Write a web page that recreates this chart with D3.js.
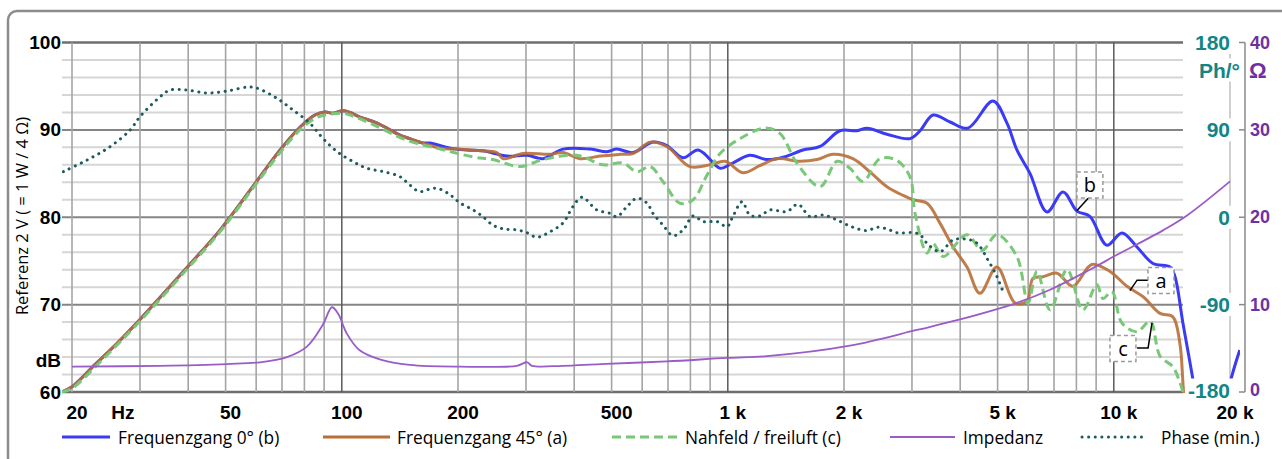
<!DOCTYPE html>
<html><head><meta charset="utf-8">
<script src="https://cdn.jsdelivr.net/npm/d3@7"></script>
<style>body{margin:0;background:#fff;}svg{display:block;font-family:"Open Sans",sans-serif;}.num{font-family:"Liberation Sans",Arial,sans-serif;font-weight:bold;}</style>
</head><body><svg id="c" width="1282" height="459"></svg>
<script>
// ---------- DATA ----------
const lowShared = [[18.8,60],[20,60.6],[23,63.2],[25,64.7],[30,68.3],[40,74.4],[48.3,78.5],[58.8,83.5],[69.2,87.7],[77.9,90.3],[85.2,91.7],[90.5,92.05],[94.8,91.9],[100.7,92.2],[105,92.0],[111,91.5],[123,90.8],[141.5,89.4],[147.6,89.1],[162,88.5]];
const resp0 = lowShared.concat([[169,88.5],[191,87.9],[211,87.7],[232,87.6],[268,87.0],[302,87.1],[332,86.7],[374,87.8],[440,87.8],[486,87.5],[516,87.8],[568,87.4],[640,88.6],[695,88.2],[766,86.8],[838,87.7],[938,85.8],[960,85.6],[1030,86.2],[1140,87.1],[1262,86.6],[1400,86.9],[1566,87.7],[1734,88.1],[1952,89.9],[2162,89.9],[2294,90.2],[2584,89.5],[2966,89.0],[3148,89.9],[3402,91.7],[3766,90.9],[4188,90.2],[4864,93.3],[5284,90.8],[5610,87.7],[6068,85.0],[6714,80.6],[7386,82.9],[8030,80.7],[8670,80.1],[9594,76.8],[10496,78.2],[11482,76.6],[12634,74.7],[13986,74.3],[14406,73.2],[15102,67.9],[16034,61.4],[17000,54],[18000,48],[19300,57],[20000,61],[21200,64.8]]);
const resp45 = lowShared.concat([[180,87.9],[199,87.8],[228,87.6],[252,87.4],[262,86.7],[295,87.3],[346,87.2],[374,87.4],[414,86.7],[467,87.0],[526,87.2],[568,87.3],[629,88.6],[695,88.1],[798,85.8],[900,86.0],[984,86.4],[1094,85.1],[1210,85.9],[1340,86.7],[1538,86.4],[1702,86.6],[1874,87.2],[2108,86.7],[2334,85.2],[2584,83.5],[2844,82.5],[3020,82.0],[3282,81.6],[3548,79.3],[3834,76.6],[4166,74.3],[4500,71.3],[4978,74.3],[5546,70.2],[5958,70.4],[6174,73.0],[6554,73.2],[7126,73.6],[7834,72.1],[8770,74.6],[9774,73.8],[10816,72.1],[11914,70.9],[13176,69.0],[14224,68.6],[14826,65.6],[15102,61.1],[15250,58]]);
const nearfield = [[18.8,60],[20,60.4],[23,62.9],[25,64.5],[30,68.1],[40,74.2],[48.3,78.3],[58.8,83.3],[69.2,87.4],[77.9,90.0],[85.2,91.3],[90.5,91.7],[100.7,91.9],[105,91.7],[120.5,90.6],[147.6,88.8],[180,87.8],[219,86.9],[246,86.6],[290,85.8],[332,86.6],[407,87.1],[475,86.0],[535,86.2],[582,85.2],[629,85.8],[679,84.1],[752,81.6],[813,82.0],[883,84.8],[955,87.3],[1076,89.0],[1248,90.2],[1364,89.6],[1510,86.2],[1734,83.5],[1918,86.4],[2072,85.6],[2240,84.1],[2478,86.7],[2742,86.5],[2966,84.6],[3056,80.4],[3282,75.9],[3402,77.0],[3612,75.5],[4166,78.0],[4558,76.2],[4978,78.0],[5610,75.5],[5994,70.2],[6324,73.8],[6836,69.4],[7568,74.0],[8318,69.4],[9038,72.3],[9376,70.7],[9886,71.5],[10496,67.9],[11482,66.9],[12418,68.1],[13176,64.1],[14224,62.9],[14826,61.1],[15102,60.0]];
const impedance = [[20,2.9],[33.8,3.0],[50.4,3.2],[61.4,3.4],[72.1,4.0],[81.2,5.2],[89.3,7.7],[94.3,9.7],[97.7,9.0],[103,6.7],[111,4.8],[126,3.7],[150,3.1],[202,2.9],[284,3.0],[302,3.4],[311,3.0],[374,3.0],[467,3.2],[695,3.5],[995,3.9],[1262,4.1],[2072,5.3],[3090,7.1],[3996,8.3],[5610,10.2],[6836,11.7],[8670,14.0],[10192,15.7],[13412,18.5],[15478,20.2],[20000,24.1]];
const phase = [[19,47],[21.9,59],[25.1,72.7],[28.3,90],[30,103.6],[33.8,124],[35.9,131],[39.7,131],[44.7,128],[50.4,130],[56.8,134],[60.3,133],[67.9,122.5],[74.7,110.5],[82.7,96.8],[89.3,81.4],[97.2,67.6],[107,57.3],[116,50.5],[128,47],[141.5,41.8],[150,33.3],[159,26.4],[172,29.9],[180,28.8],[191,23],[202,15],[219,7.5],[232,0.6],[246,-8],[262,-12],[284,-13],[302,-16],[320,-20.6],[346,-15],[374,-6],[397,11],[419,20.6],[458,7.5],[495,4],[516,0.6],[548,11],[582,19.6],[618,14.4],[640,4],[679,-8],[721,-19],[766,-13],[813,1.3],[863,-4.5],[938,-4.5],[995,-9.7],[1030,0.6],[1089,16],[1140,2.4],[1210,1.3],[1286,7.5],[1422,5.8],[1520,13.4],[1634,0.6],[1764,2.4],[1918,-2.8],[2108,-10.3],[2294,-13.8],[2436,-10.3],[2584,-12],[2742,-15.9],[3020,-15.9],[3148,-18],[3282,-26.8],[3548,-35.4],[3834,-23.4],[4166,-22.7],[4424,-26.8],[4720,-44],[4978,-61],[5164,-76.6]];

const gridFreqs = [20,30,40,50,60,70,80,90,100,200,300,400,500,600,700,800,900,1000,2000,3000,4000,5000,6000,7000,8000,9000,10000,20000];
const decadeFreqs = [100,1000,10000];
const dbGrid = d3.range(60,101,2);
const dbLabels = [100,90,80,70,60];
const xTickFreqs = [20,50,100,200,500,1000,2000,5000,10000,20000];
const xTickTexts = ["20","50","100","200","500","1 k","2 k","5 k","10 k","20 k"];
const phaseTicks = [180,90,0,-90,-180];
const impTicks = [40,30,20,10,0];
const legendNames = ["Frequenzgang 0° (b)","Frequenzgang 45° (a)","Nahfeld / freiluft (c)","Impedanz","Phase (min.)"];
// annotation: label, box centre [Hz,dB], leader polyline [[Hz,dB],...]
const annots = [
  {t:"b", c:[8670,83.7], lead:[[8630,82.3],[8020,80.75]]},
  {t:"a", c:[13250,72.75], lead:[[12330,72.8],[11490,72.8],[11010,71.6]]},
  {t:"c", c:[10560,64.97], lead:[[11490,65.05],[12270,65.05],[12560,67.9]]}
];

// ---------- SCALES ----------
const x = d3.scaleLog().domain([20,20000]).range([72,1230]);
const y = d3.scaleLinear().domain([60,100]).range([392,42.5]);
const yPh = d3.scaleLinear().domain([-180,180]).range([392,42.5]);
const yZ = d3.scaleLinear().domain([0,40]).range([392,42.5]);
const PL=62, PR=1240, GR=1183;

const svg = d3.select("#c");
const C = {blue:"#3b3bf6", brown:"#b86f38", green:"#78c878", purple:"#9a5cc6", phase:"#1d5c5c", teal:"#138585", purp:"#7030a0"};

// frame
svg.append("rect").attr("x",8).attr("y",11).attr("width",1300).attr("height",480).attr("rx",9)
  .attr("fill","none").attr("stroke","#8c8c8c").attr("stroke-width",2.5);

// horizontal grid
svg.append("g").selectAll("line").data(dbGrid).join("line")
  .attr("x1",PL).attr("x2",GR).attr("y1",d=>y(d)).attr("y2",d=>y(d))
  .attr("stroke",d=> (d===60||d===100)?"#6e6e6e":(d%10===0?"#858585":"#d6d6d6"))
  .attr("stroke-width",d=> (d===60||d===100)?2.5:2);
// vertical grid
svg.append("g").selectAll("line").data(gridFreqs).join("line")
  .attr("x1",d=>x(d)).attr("x2",d=>x(d)).attr("y1",y(100)).attr("y2",y(60))
  .attr("stroke",d=>decadeFreqs.includes(d)?"#5a5a5a":(d===20000?"#c4c4c4":"#a5a5a5"))
  .attr("stroke-width",d=>decadeFreqs.includes(d)?1.5:1.6);

// clip
svg.append("clipPath").attr("id","pc").append("rect").attr("x",PL).attr("y",40).attr("width",PR-PL).attr("height",y(60)-40+1);
const plot = svg.append("g").attr("clip-path","url(#pc)");
const crv = d3.curveCatmullRom.alpha(0.5);
const lineDb = d3.line().x(d=>x(d[0])).y(d=>y(d[1])).curve(crv);
const linePh = d3.line().x(d=>x(d[0])).y(d=>yPh(d[1])).curve(crv);
const lineZ = d3.line().x(d=>x(d[0])).y(d=>yZ(d[1])).curve(crv);

plot.append("path").attr("d",lineDb(resp0)).attr("fill","none").attr("stroke",C.blue).attr("stroke-width",3);
plot.append("path").attr("d",lineDb(resp45)).attr("fill","none").attr("stroke",C.brown).attr("stroke-width",3).attr("stroke-opacity",0.9);
plot.append("path").attr("d",lineDb(nearfield)).attr("fill","none").attr("stroke",C.green).attr("stroke-width",3).attr("stroke-dasharray","9,5");
plot.append("path").attr("d",lineZ(impedance)).attr("fill","none").attr("stroke",C.purple).attr("stroke-width",1.8);
plot.append("path").attr("d",linePh(phase)).attr("fill","none").attr("stroke",C.phase).attr("stroke-width",3).attr("stroke-linecap","round").attr("stroke-dasharray","0.1,6.5");

// annotations
const ag = svg.append("g");
annots.forEach(a=>{
  ag.append("path").attr("d",d3.line()(a.lead.map(p=>[x(p[0]),y(p[1])]))).attr("fill","none").attr("stroke","#000").attr("stroke-width",1.5);
  const cx=x(a.c[0]), cy=y(a.c[1]);
  ag.append("rect").attr("x",cx-13).attr("y",cy-13).attr("width",26).attr("height",26)
    .attr("fill","#fff").attr("stroke","#9a9a9a").attr("stroke-width",1.5).attr("stroke-dasharray","4,3");
  ag.append("text").attr("x",cx).attr("y",cy).attr("text-anchor","middle").attr("dominant-baseline","central")
    .attr("font-size",20).attr("fill","#000").text(a.t);
});

// left labels
svg.append("g").selectAll("text").data(dbLabels).join("text").attr("class","num")
  .attr("x",61).attr("y",d=>y(d)).attr("text-anchor","end").attr("dominant-baseline","central")
  .attr("font-size",19).attr("fill","#000").text(d=>d);
svg.append("text").attr("class","num").attr("x",61).attr("y",360).attr("text-anchor","end").attr("dominant-baseline","central")
  .attr("font-size",19).text("dB");
svg.append("text").attr("transform","translate(28,216) rotate(-90)").attr("text-anchor","middle")
  .attr("font-size",16.5).attr("fill","#000").text("Referenz 2 V  ( = 1 W / 4 Ω)");

// x labels
svg.append("g").selectAll("text").data(xTickFreqs).join("text").attr("class","num")
  .attr("x",d=>x(d)+5).attr("y",419).attr("text-anchor","middle")
  .attr("font-size",19).text((d,i)=>xTickTexts[i]);
svg.append("text").attr("class","num").attr("x",x(27.1)).attr("y",419).attr("text-anchor","middle")
  .attr("font-size",19).text("Hz");

// right phase axis labels with white background
const rg = svg.append("g");
function bgText(g,xp,yp,txt,anchor,size,color){
  const t = g.append("text").attr("class","num").attr("x",xp).attr("y",yp).attr("text-anchor",anchor).attr("dominant-baseline","central")
    .attr("font-size",size).attr("fill",color).text(txt);
  const b = t.node().getBBox();
  g.insert("rect","text").attr("x",b.x-3).attr("y",b.y).attr("width",b.width+6).attr("height",b.height).attr("fill","#fff");
  return t;
}
phaseTicks.forEach(p=>bgText(rg,1230,p===-180?yPh(p)-2:yPh(p),String(p),"end",21,C.teal));
bgText(rg,1240,70,"Ph/°","end",21,C.teal);

// impedance axis
svg.append("line").attr("x1",1245).attr("x2",1245).attr("y1",yZ(40)).attr("y2",yZ(0)).attr("stroke","#8a8a8a").attr("stroke-width",1.5);
svg.append("g").selectAll("line").data(impTicks).join("line")
  .attr("x1",1239).attr("x2",1245).attr("y1",d=>yZ(d)).attr("y2",d=>yZ(d)).attr("stroke","#8a8a8a").attr("stroke-width",1.5);
const ig = svg.append("g");
impTicks.forEach(z=>bgText(ig,1250,z===0?yZ(z)-2:yZ(z),String(z),"start",18,C.purp));
bgText(ig,1249,70,"Ω","start",22,C.purp);

// legend
const lg = svg.append("g");
const legItems = [
  {x1:62,x2:110,tx:118,col:C.blue,w:3,dash:null,cap:"butt"},
  {x1:323,x2:390,tx:397,col:C.brown,w:3,dash:null,cap:"butt"},
  {x1:612,x2:678,tx:685,col:C.green,w:3,dash:"9,5",cap:"butt"},
  {x1:890,x2:955,tx:963,col:C.purple,w:1.8,dash:null,cap:"butt"},
  {x1:1082,x2:1148,tx:1161,col:C.phase,w:3,dash:"0.1,6.5",cap:"round"}
];
legItems.forEach((l,i)=>{
  lg.append("line").attr("x1",l.x1).attr("x2",l.x2).attr("y1",437).attr("y2",437)
    .attr("stroke",l.col).attr("stroke-width",l.w).attr("stroke-dasharray",l.dash).attr("stroke-linecap",l.cap);
  lg.append("text").attr("x",l.tx).attr("y",437).attr("dominant-baseline","central").attr("font-size",17.3).attr("fill","#000").text(legendNames[i]);
});
</script></body></html>
